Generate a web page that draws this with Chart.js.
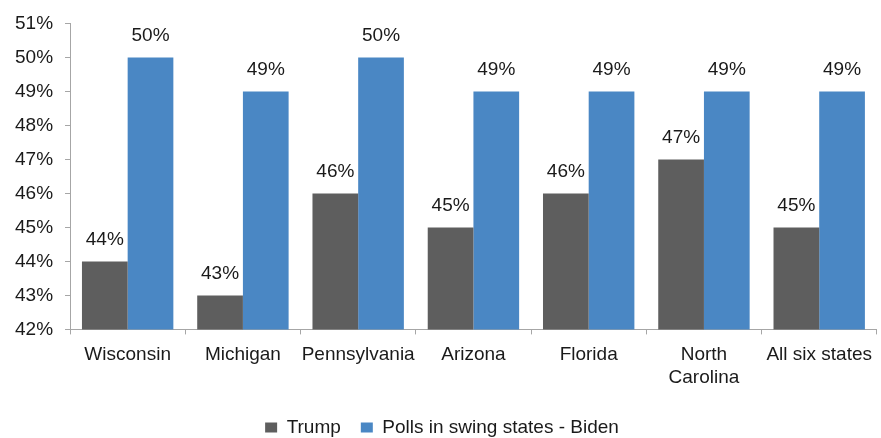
<!DOCTYPE html>
<html>
<head>
<meta charset="utf-8">
<script src="https://cdn.jsdelivr.net/npm/chart.js@4"></script>
<style>
  html, body { margin: 0; padding: 0; background: #fff; }
  #wrap { width: 881px; height: 438px; }
</style>
</head>
<body>
<div id="wrap"><canvas id="grafico"></canvas></div>
<script>
// ===== DATOS =====
const estados = ['Wisconsin', 'Michigan', 'Pennsylvania', 'Arizona', 'Florida', ['North', 'Carolina'], 'All six states'];
const trump = [44, 43, 46, 45, 46, 47, 45];
const biden = [50, 49, 50, 49, 49, 49, 49];
const ejeMin = 42;
const ejeMax = 51;

const FUENTE = "Arial, 'Liberation Sans', sans-serif";
const GRIS_EJE = '#a6a6a6';
const TAM = 19;

// Etiquetas de valor encima de cada barra
const etiquetasBarras = {
    id: 'etiquetasBarras',
    afterDatasetsDraw(chart) {
        const ctx = chart.ctx;
        ctx.save();
        ctx.font = TAM + 'px ' + FUENTE;
        ctx.fillStyle = '#1a1a1a';
        ctx.textAlign = 'center';
        ctx.textBaseline = 'alphabetic';
        chart.data.datasets.forEach((ds, i) => {
            chart.getDatasetMeta(i).data.forEach((bar, j) => {
                ctx.fillText(ds.data[j] + '%', bar.x, bar.y - 16);
            });
        });
        ctx.restore();
    }
};

new Chart(document.getElementById('grafico').getContext('2d'), {
    type: 'bar',
    data: {
        labels: estados,
        datasets: [
            {
                label: 'Trump',
                data: trump,
                backgroundColor: '#5e5e5e',
                categoryPercentage: 0.793,
                barPercentage: 1.0
            },
            {
                label: 'Polls in swing states - Biden',
                data: biden,
                backgroundColor: '#4a87c4',
                categoryPercentage: 0.793,
                barPercentage: 1.0
            }
        ]
    },
    options: {
        responsive: true,
        maintainAspectRatio: false,
        animation: false,
        layout: { padding: { top: -3, left: 3, right: 0, bottom: -9 } },
        plugins: {
            legend: {
                position: 'bottom',
                labels: {
                    color: '#1a1a1a',
                    font: { family: FUENTE, size: TAM },
                    boxWidth: 12,
                    boxHeight: 10,
                    padding: 20
                }
            },
            tooltip: { enabled: false }
        },
        scales: {
            x: {
                grid: { drawOnChartArea: false, drawTicks: true, tickLength: 5, color: GRIS_EJE },
                border: { color: GRIS_EJE },
                ticks: {
                    color: '#1a1a1a',
                    font: { family: FUENTE, size: TAM },
                    padding: 9,
                    maxRotation: 0,
                    autoSkip: false
                }
            },
            y: {
                min: ejeMin,
                max: ejeMax,
                grid: { drawOnChartArea: false, drawTicks: true, tickLength: 5, color: GRIS_EJE },
                border: { color: GRIS_EJE },
                ticks: {
                    stepSize: 1,
                    color: '#1a1a1a',
                    font: { family: FUENTE, size: TAM },
                    padding: 12,
                    callback: v => v + '%'
                }
            }
        }
    },
    plugins: [etiquetasBarras]
});
</script>
</body>
</html>
